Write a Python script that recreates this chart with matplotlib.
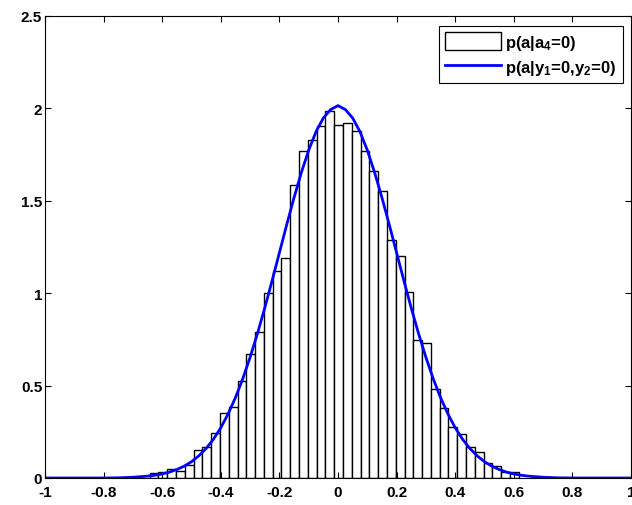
import numpy as np
import matplotlib
matplotlib.use('Agg')
import matplotlib.pyplot as plt

plt.rcParams['font.family'] = ['Liberation Sans', 'DejaVu Sans']
plt.rcParams['font.weight'] = 'bold'
plt.rcParams['mathtext.fontset'] = 'custom'
plt.rcParams['mathtext.rm'] = 'Liberation Sans:bold'
plt.rcParams['mathtext.it'] = 'Liberation Sans:bold'
plt.rcParams['mathtext.bf'] = 'Liberation Sans:bold'

# histogram p(a|a4=0): left edge of first bin and bin width, bar heights
bin_start = -0.643
bin_width = 0.03
hist_heights = [0.027, 0.034, 0.049, 0.036, 0.072, 0.152, 0.166, 0.242, 0.350, 0.386,
                0.523, 0.671, 0.788, 1.001, 1.122, 1.189, 1.585, 1.768, 1.831, 1.903,
                1.985, 1.912, 1.919, 1.876, 1.768, 1.663, 1.555, 1.288, 1.203, 1.005,
                0.748, 0.729, 0.482, 0.377, 0.274, 0.238, 0.166, 0.142, 0.079, 0.063,
                0.031, 0.034]

# curve p(a|y1=0,y2=0)
curve_x = [-1.0, -0.9, -0.8, -0.75, -0.7, -0.65, -0.625, -0.6, -0.575, -0.55, -0.525,
           -0.5, -0.475, -0.45, -0.425, -0.4, -0.375, -0.35, -0.325, -0.3, -0.275,
           -0.25, -0.225, -0.2, -0.175, -0.15, -0.125, -0.1, -0.075, -0.05, -0.025,
           0.0, 0.025, 0.05, 0.075, 0.1, 0.125, 0.15, 0.175, 0.2, 0.225, 0.25, 0.275,
           0.3, 0.325, 0.35, 0.375, 0.4, 0.425, 0.45, 0.475, 0.5, 0.525, 0.55, 0.575,
           0.6, 0.625, 0.65, 0.7, 0.75, 0.8, 0.9, 1.0]
curve_y = [0.0, 0.0, 0.0, 0.001, 0.004, 0.010, 0.015, 0.022, 0.032, 0.046, 0.064,
           0.088, 0.120, 0.160, 0.210, 0.272, 0.347, 0.435, 0.537, 0.653, 0.781,
           0.920, 1.067, 1.219, 1.371, 1.517, 1.653, 1.774, 1.874, 1.948, 1.994,
           2.015, 1.994, 1.948, 1.874, 1.774, 1.653, 1.517, 1.371, 1.219, 1.067, 0.920,
           0.781, 0.653, 0.537, 0.435, 0.347, 0.272, 0.210, 0.160, 0.120, 0.088, 0.064,
           0.046, 0.032, 0.022, 0.015, 0.010, 0.004, 0.001, 0.0, 0.0, 0.0]

x_ticks = [-1, -0.8, -0.6, -0.4, -0.2, 0, 0.2, 0.4, 0.6, 0.8, 1]
x_labels = ['-1', '-0.8', '-0.6', '-0.4', '-0.2', '0', '0.2', '0.4', '0.6', '0.8', '1']
y_ticks = [0, 0.5, 1, 1.5, 2, 2.5]
y_labels = ['0', '0.5', '1', '1.5', '2', '2.5']

fig = plt.figure(figsize=(6.32, 5.06), dpi=100)
ax = fig.add_axes([45 / 632, 27 / 506, 586 / 632, 462 / 506])

left_edges = bin_start + bin_width * np.arange(len(hist_heights))
bars = ax.bar(left_edges, hist_heights, width=bin_width, align='edge',
              facecolor='white', edgecolor='black', linewidth=1.0)
line, = ax.plot(curve_x, curve_y, color='#0000ff', linewidth=2.0)

ax.set_xlim(-1, 1)
ax.set_ylim(0, 2.5)
ax.set_xticks(x_ticks)
ax.set_xticklabels(x_labels)
ax.set_yticks(y_ticks)
ax.set_yticklabels(y_labels)
ax.tick_params(direction='in', length=4, width=0.8, top=True, right=True,
               labelsize=11, pad=2)
ax.tick_params(axis='x', pad=5)
for lab in ax.get_xticklabels() + ax.get_yticklabels():
    lab.set_fontweight('bold')
for s in ax.spines.values():
    s.set_linewidth(0.8)

leg = ax.legend([bars, line], [r'p(a|a$_4$=0)', r'p(a|y$_1$=0,y$_2$=0)'],
                loc='upper right', bbox_to_anchor=(0.986, 0.978),
                borderaxespad=0, fancybox=False, edgecolor='black',
                framealpha=1, prop={'weight': 'bold', 'size': 12},
                handlelength=3.4, handleheight=1.3, handletextpad=0.25,
                borderpad=0.35, labelspacing=0.35)
leg.get_frame().set_linewidth(0.8)

fig.savefig('out.png', dpi=100)
